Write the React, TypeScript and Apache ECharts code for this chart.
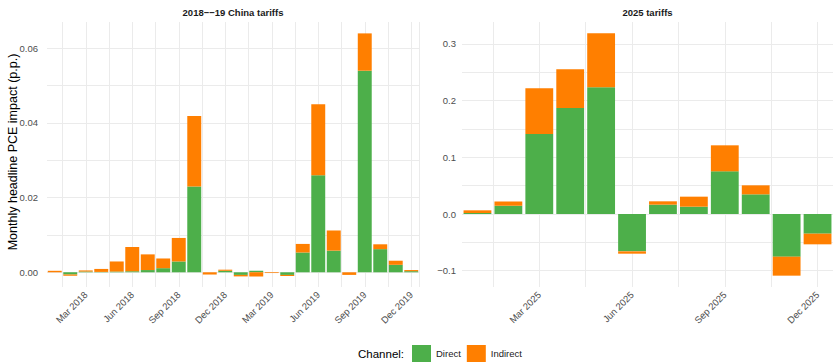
import React, { useEffect, useRef } from 'react';
import * as echarts from 'echarts';

const leftMonths = [
  'Jan 2018', 'Feb 2018', 'Mar 2018', 'Apr 2018', 'May 2018', 'Jun 2018',
  'Jul 2018', 'Aug 2018', 'Sep 2018', 'Oct 2018', 'Nov 2018', 'Dec 2018',
  'Jan 2019', 'Feb 2019', 'Mar 2019', 'Apr 2019', 'May 2019', 'Jun 2019',
  'Jul 2019', 'Aug 2019', 'Sep 2019', 'Oct 2019', 'Nov 2019', 'Dec 2019',
];
const leftDirect = [
  0.0, -0.0006, 0.0002, 0.0001, 0.0002, 0.0003, 0.0006, 0.0011, 0.0029, 0.0230, 0.0, 0.0004,
  -0.0007, 0.0004, 0.0, -0.0007, 0.0053, 0.0260, 0.0058, 0.0, 0.0540, 0.0062, 0.0020, 0.0003,
];
const leftIndirect = [
  0.0004, -0.0003, 0.0003, 0.0008, 0.0027, 0.0065, 0.0042, 0.0026, 0.0063, 0.0189, -0.0006, 0.0003,
  -0.0004, -0.0011, -0.0002, -0.0003, 0.0023, 0.0190, 0.0054, -0.0007, 0.0100, 0.0013, 0.0011, 0.0003,
];

const rightMonths = [
  'Jan 2025', 'Feb 2025', 'Mar 2025', 'Apr 2025', 'May 2025', 'Jun 2025',
  'Jul 2025', 'Aug 2025', 'Sep 2025', 'Oct 2025', 'Nov 2025', 'Dec 2025',
];
const rightDirect = [0.0018, 0.0147, 0.141, 0.187, 0.2235, -0.0659, 0.0165, 0.0129, 0.0753, 0.0347, -0.0753, -0.0347];
const rightIndirect = [0.0047, 0.0073, 0.0808, 0.0683, 0.0953, -0.0041, 0.0059, 0.0177, 0.0459, 0.0159, -0.0335, -0.0188];

const leftTickValues = [0, 0.02, 0.04, 0.06];
const rightTickValues = [-0.1, 0, 0.1, 0.2, 0.3];
const labeledMonths = ['Mar', 'Jun', 'Sep', 'Dec'];

const GREEN = '#4DAF4A';
const ORANGE = '#FF7F00';
const GRID = '#ebebeb';
const AXIS_TEXT = '#4d4d4d';
const FONT = '"Liberation Sans", Arial, Helvetica, sans-serif';

function tickFormatter(ticks: number[], digits: number) {
  return (v: number) => {
    const t = ticks.find((x) => Math.abs(x - v) < 1e-9);
    if (t === undefined) return '';
    return t.toFixed(digits).replace('-', '\u2212');
  };
}

function halfSteps(n: number) {
  return Array.from({ length: n * 2 }, (_, i) => String(i));
}

export default function App() {
  const ref = useRef<HTMLDivElement>(null);
  useEffect(() => {
    if (!ref.current) return;
    const chart = echarts.init(ref.current, undefined, { renderer: 'svg' });
    const mainX = (gridIndex: number, data: string[]) => ({
      type: 'category',
      gridIndex,
      data,
      boundaryGap: true,
      axisLine: { show: false },
      axisTick: { show: false },
      splitLine: { show: false },
      axisLabel: {
        interval: (_i: number, v: string) => labeledMonths.includes(v.slice(0, 3)),
        rotate: 45,
        margin: 6,
        fontSize: 9.5,
        color: AXIS_TEXT,
        fontFamily: FONT,
      },
    });
    const gridX = (gridIndex: number, n: number) => ({
      type: 'category',
      gridIndex,
      position: 'top',
      data: halfSteps(n),
      boundaryGap: true,
      axisLine: { show: false },
      axisTick: { show: false },
      axisLabel: { show: false },
      splitLine: {
        show: true,
        interval: (i: number) => i % 3 === 2,
        lineStyle: { color: GRID, width: 1 },
      },
    });
    const yAx = (gridIndex: number, min: number, max: number, splitNumber: number, fmt: any, margin: number) => ({
      type: 'value',
      gridIndex,
      min,
      max,
      splitNumber,
      axisLine: { show: false },
      axisTick: { show: false },
      axisLabel: { formatter: fmt, fontSize: 9.5, color: AXIS_TEXT, fontFamily: FONT, margin, showMinLabel: true, showMaxLabel: true },
      splitLine: { show: true, showMinLine: false, showMaxLine: false, lineStyle: { color: GRID, width: 1 } },
    });
    const bar = (name: string, xi: number, yi: number, stack: string, data: number[], color: string) => ({
      name,
      type: 'bar',
      xAxisIndex: xi,
      yAxisIndex: yi,
      stack,
      data,
      barWidth: '90%',
      itemStyle: { color },
      emphasis: { disabled: true },
    });
    chart.setOption({
      animation: false,
      backgroundColor: '#ffffff',
      textStyle: { fontFamily: FONT },
      grid: [
        { left: 47, right: 414, top: 22, bottom: 75, containLabel: false },
        { left: 462, right: 0, top: 22, bottom: 75, containLabel: false },
      ],
      xAxis: [mainX(0, leftMonths), gridX(0, leftMonths.length), mainX(1, rightMonths), gridX(1, rightMonths.length)],
      yAxis: [
        yAx(0, -0.00394, 0.06705, 7, tickFormatter(leftTickValues, 2), 9),
        yAx(1, -0.1288, 0.3388, 9, tickFormatter(rightTickValues, 1), 6),
      ],
      legend: {
        data: ['Direct', 'Indirect'],
        left: 412,
        top: 345,
        padding: 0,
        icon: 'rect',
        itemWidth: 19,
        itemHeight: 17,
        itemGap: 6,
        selectedMode: false,
        textStyle: { fontSize: 9.5, color: '#1a1a1a', fontFamily: FONT },
      },
      graphic: [
        {
          type: 'text', x: 13, y: 152, rotation: Math.PI / 2,
          style: { text: 'Monthly headline PCE impact (p.p.)', align: 'center', verticalAlign: 'middle', fontSize: 12.5, fill: '#000', fontFamily: FONT },
        },
        {
          type: 'text', x: 233, y: 12.7,
          style: { text: '2018\u2212\u221219 China tariffs', align: 'center', verticalAlign: 'middle', fontSize: 9.5, fontWeight: 'bold', fill: '#1a1a1a', fontFamily: FONT },
        },
        {
          type: 'text', x: 647.5, y: 12.7,
          style: { text: '2025 tariffs', align: 'center', verticalAlign: 'middle', fontSize: 9.5, fontWeight: 'bold', fill: '#1a1a1a', fontFamily: FONT },
        },
        {
          type: 'text', x: 358, y: 354,
          style: { text: 'Channel:', align: 'left', verticalAlign: 'middle', fontSize: 11.5, fill: '#000', fontFamily: FONT },
        },
      ],
      series: [
        bar('Direct', 0, 0, 'left', leftDirect, GREEN),
        bar('Indirect', 0, 0, 'left', leftIndirect, ORANGE),
        bar('Direct', 2, 1, 'right', rightDirect, GREEN),
        bar('Indirect', 2, 1, 'right', rightIndirect, ORANGE),
      ],
    });
    return () => chart.dispose();
  }, []);
  return <div ref={ref} style={{ position: 'fixed', left: 0, top: 0, width: 833, height: 362, background: '#fff' }} />;
}
